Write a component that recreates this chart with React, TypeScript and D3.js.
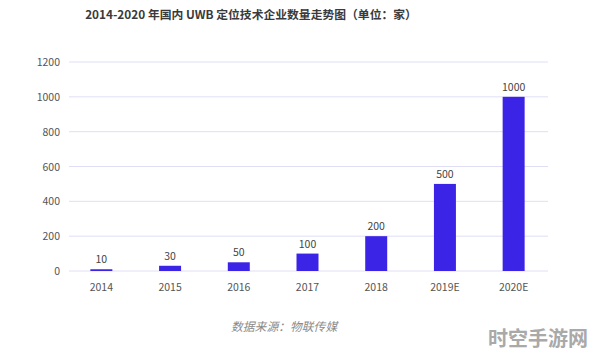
import React, { useRef, useEffect } from "react";
import * as d3 from "d3";

const years = ["2014", "2015", "2016", "2017", "2018", "2019E", "2020E"];
const counts = [10, 30, 50, 100, 200, 500, 1000];
const yTicks = [0, 200, 400, 600, 800, 1000, 1200];

const W = 596;
const H = 354;

const Chart = () => {
  const ref = useRef<SVGSVGElement>(null);

  useEffect(() => {
    const svg = d3.select(ref.current);
    svg.selectAll("*").remove();

    const left = 67;
    const right = 548;
    const top = 62;
    const bottom = 271;
    const font = "'Noto Sans CJK SC', 'Noto Sans', sans-serif";

    const x = d3.scaleBand().domain(years).range([left, right]).paddingInner(0.68).paddingOuter(0.34);
    const y = d3.scaleLinear().domain([0, 1200]).range([bottom, top]);

    svg.append("rect").attr("width", W).attr("height", H).attr("fill", "#fff");

    svg
      .append("text")
      .attr("x", 251)
      .attr("y", 19)
      .attr("text-anchor", "middle")
      .attr("font-family", font)
      .attr("font-size", 11.8)
      .attr("font-weight", "bold")
      .attr("fill", "#3a3a3a")
      .text("2014-2020 年国内 UWB 定位技术企业数量走势图（单位：家）");

    // grid
    svg
      .append("g")
      .selectAll("line")
      .data(yTicks)
      .enter()
      .append("line")
      .attr("x1", left + 2)
      .attr("x2", right)
      .attr("y1", d => y(d))
      .attr("y2", d => y(d))
      .attr("stroke", "#e0def7")
      .attr("stroke-width", 1);

    svg
      .append("g")
      .selectAll("text")
      .data(yTicks)
      .enter()
      .append("text")
      .attr("x", 60)
      .attr("y", d => y(d) + 4)
      .attr("text-anchor", "end")
      .attr("font-family", font)
      .attr("font-size", 10.5)
      .attr("fill", "#555")
      .text(d => d);

    svg
      .append("g")
      .selectAll("rect")
      .data(counts)
      .enter()
      .append("rect")
      .attr("x", (d, i) => x(years[i])!)
      .attr("y", d => y(d))
      .attr("width", x.bandwidth())
      .attr("height", d => bottom - y(d))
      .attr("fill", "#3b24e6");

    svg
      .append("g")
      .selectAll("text")
      .data(counts)
      .enter()
      .append("text")
      .attr("x", (d, i) => x(years[i])! + x.bandwidth() / 2)
      .attr("y", d => y(d) - 6)
      .attr("text-anchor", "middle")
      .attr("font-family", font)
      .attr("font-size", 10.5)
      .attr("fill", "#444")
      .text(d => d);

    svg
      .append("g")
      .selectAll("text")
      .data(years)
      .enter()
      .append("text")
      .attr("x", d => x(d)! + x.bandwidth() / 2)
      .attr("y", bottom + 20)
      .attr("text-anchor", "middle")
      .attr("font-family", font)
      .attr("font-size", 10.5)
      .attr("fill", "#555")
      .text(d => d);

    svg
      .append("text")
      .attr("x", 231)
      .attr("y", 331)
      .attr("font-family", font)
      .attr("font-size", 11.8)
      .attr("font-style", "italic")
      .attr("fill", "#8a8a8a")
      .text("数据来源：物联传媒");

    svg
      .append("text")
      .attr("x", 488)
      .attr("y", 346)
      .attr("font-family", font)
      .attr("font-size", 20)
      .attr("font-weight", "bold")
      .attr("fill", "#a0a0a0")
      .attr("opacity", 0.9)
      .text("时空手游网");
  }, []);

  return <svg ref={ref} width={W} height={H} style={{ display: "block" }} />;
};

const App = () => {
  return (
    <div style={{ position: "absolute", left: 0, top: 0 }}>
      <Chart />
    </div>
  );
};

export default App;
